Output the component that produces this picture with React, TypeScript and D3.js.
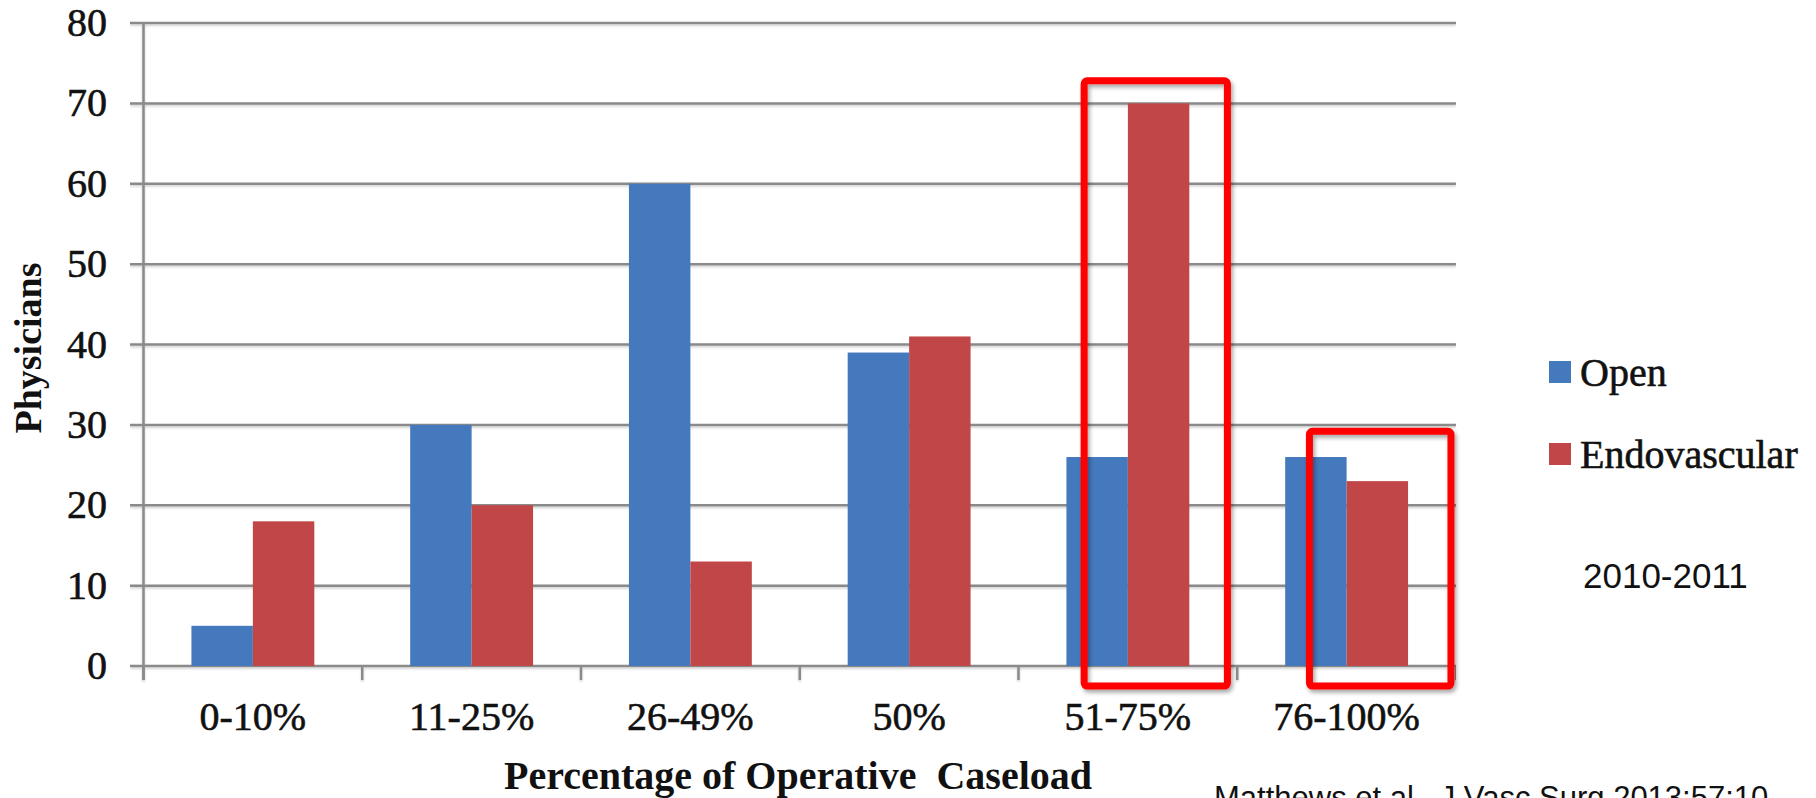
import * as d3 from "d3";

const categories = ["0-10%", "11-25%", "26-49%", "50%", "51-75%", "76-100%"];
const seriesNames = ["Open", "Endovascular"];
const openValues = [5, 30, 60, 39, 26, 26];
const endoValues = [18, 20, 13, 41, 70, 23];
const yTicks = [0, 10, 20, 30, 40, 50, 60, 70, 80];
const colors = ["#4579BD", "#C04647"];

// red highlight boxes: category, start/end as fraction of band, top/bottom in value units
const highlightCats = ["51-75%", "76-100%"];
const highlightFrom = [0.3, 0.33];
const highlightTo = [0.955, 0.977];
const highlightTop = [72.8, 29.2];
const highlightBottom = [-2.5, -2.5];

const W = 1816;
const H = 798;
const left = 143.5;
const right = 1456;
const top = 23;
const bottom = 666;
const GRID = "#8a8a8a";
const INK = "#111";
const SERIF = "'Liberation Serif', 'Times New Roman', serif";
const SANS = "'Liberation Sans', Arial, sans-serif";

const App = () => {
  const x = d3.scaleBand<string>().domain(categories).range([left, right]);
  const xs = d3
    .scaleBand<string>()
    .domain(seriesNames)
    .range([0, x.bandwidth()])
    .paddingOuter(0.78);
  const y = d3.scaleLinear().domain([0, 80]).range([bottom, top]);
  const series = [openValues, endoValues];
  const boundaries = categories.map((c) => x(c) as number).concat([right]);

  // the scanned labels look a bit heavier than plain Times
  const serifText = {
    fontFamily: SERIF,
    fill: INK,
    stroke: INK,
    strokeWidth: 0.6,
  };

  return (
    <div style={{ position: "absolute", left: 0, top: 0 }}>
      <svg width={W} height={H} style={{ display: "block", background: "#fff" }}>
        <defs>
          <filter id="shadow" x="-10%" y="-10%" width="130%" height="130%">
            <feDropShadow dx="2" dy="3" stdDeviation="2" floodColor="#000" floodOpacity="0.35" />
          </filter>
          <filter id="gshadow" x="0" y="-50%" width="100%" height="300%">
            <feDropShadow dx="0" dy="1.5" stdDeviation="1" floodColor="#000" floodOpacity="0.2" />
          </filter>
        </defs>

        {/* gridlines */}
        <g filter="url(#gshadow)">
          {yTicks.map((t) => (
            <line key={t} x1={130} x2={right} y1={y(t)} y2={y(t)} stroke={GRID} strokeWidth={2.5} />
          ))}
          <line x1={left} x2={left} y1={top} y2={bottom + 14} stroke={GRID} strokeWidth={2.5} />
          {boundaries.map((b, i) => (
            <line key={i} x1={b} x2={b} y1={bottom} y2={bottom + 14} stroke={GRID} strokeWidth={2.5} />
          ))}
        </g>

        {/* bars */}
        {series.map((vals, si) =>
          vals.map((v, ci) => (
            <rect
              key={`${si}-${ci}`}
              x={(x(categories[ci]) as number) + (xs(seriesNames[si]) as number)}
              y={y(v)}
              width={xs.bandwidth()}
              height={bottom - y(v)}
              fill={colors[si]}
            />
          ))
        )}

        {/* y tick labels */}
        {yTicks.map((t) => (
          <text key={t} x={107} y={y(t) + 13} textAnchor="end" fontSize={40} {...serifText}>
            {t}
          </text>
        ))}

        {/* x tick labels */}
        {categories.map((c) => (
          <text
            key={c}
            x={(x(c) as number) + x.bandwidth() / 2}
            y={730}
            textAnchor="middle"
            fontSize={40}
            {...serifText}
          >
            {c}
          </text>
        ))}

        {/* axis titles */}
        <text
          x={798}
          y={789}
          textAnchor="middle"
          fontFamily={SERIF}
          fontWeight="bold"
          fontSize={40}
          fill={INK}
          style={{ whiteSpace: "pre" }}
        >
          {"Percentage of Operative  Caseload"}
        </text>
        <text
          transform={`translate(41, 348) rotate(-90)`}
          textAnchor="middle"
          fontFamily={SERIF}
          fontWeight="bold"
          fontSize={38}
          fill={INK}
        >
          Physicians
        </text>

        {/* highlight boxes */}
        {highlightCats.map((c, i) => {
          const x0 = (x(c) as number) + x.bandwidth() * highlightFrom[i];
          const x1 = (x(c) as number) + x.bandwidth() * highlightTo[i];
          return (
            <rect
              key={c}
              x={x0}
              y={y(highlightTop[i])}
              width={x1 - x0}
              height={y(highlightBottom[i]) - y(highlightTop[i])}
              rx={3}
              fill="none"
              stroke="#FF0000"
              strokeWidth={7}
              filter="url(#shadow)"
            />
          );
        })}

        {/* legend */}
        {seriesNames.map((s, i) => (
          <g key={s} transform={`translate(1549, ${361 + i * 82})`}>
            <rect x={0} y={0} width={22} height={22} fill={colors[i]} />
            <text x={31} y={25} fontSize={40} {...serifText}>
              {s}
            </text>
          </g>
        ))}

        <text x={1583} y={588} fontFamily={SANS} fontSize={35} fill={INK}>
          2010-2011
        </text>
        <text x={1214} y={808} fontFamily={SANS} fontSize={31} fill={INK}>
          Matthews et al., J Vasc Surg 2013;57:10
        </text>
      </svg>
    </div>
  );
};

export default App;
